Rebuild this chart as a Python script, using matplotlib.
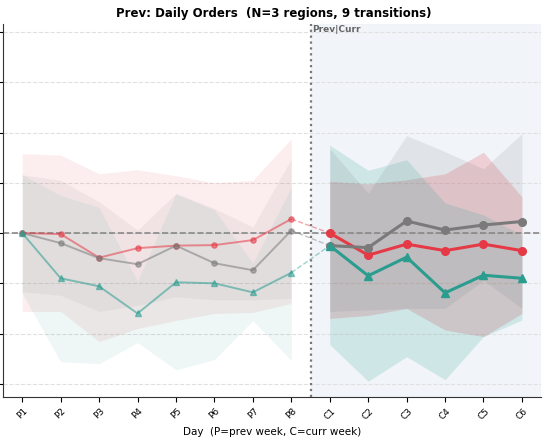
import matplotlib
matplotlib.use("Agg")
import matplotlib.pyplot as plt
import numpy as np

days = ["P1", "P2", "P3", "P4", "P5", "P6", "P7", "P8",
        "C1", "C2", "C3", "C4", "C5", "C6"]
n_prev = 8

# mean series (% change)
red_prev = [0.0, -0.1, -2.45, -1.5, -1.25, -1.2, -0.7, 1.4]
gray_prev = [0.0, -1.0, -2.5, -3.1, -1.25, -3.0, -3.7, 0.25]
teal_prev = [0.0, -4.5, -5.3, -8.0, -4.9, -5.0, -5.9, -3.95]
red_curr = [0.0, -2.2, -1.1, -1.75, -1.1, -1.75]
gray_curr = [-1.25, -1.45, 1.2, 0.3, 0.8, 1.15]
teal_curr = [-1.25, -4.25, -2.4, -5.95, -4.2, -4.5]

# band bounds
red_prev_hi = [7.9, 7.75, 5.9, 6.3, 5.7, 5.0, 5.25, 9.4]
red_prev_lo = [-7.8, -7.8, -10.8, -9.5, -8.7, -8.0, -7.9, -7.0]
gray_prev_hi = [5.8, 5.25, 3.1, 0.3, 3.95, 2.45, 0.6, 7.4]
gray_prev_lo = [-5.85, -6.2, -7.8, -7.2, -6.35, -6.65, -6.65, -6.5]
teal_prev_hi = [5.8, 3.75, 2.55, -4.8, 3.9, 2.3, -3.0, 4.6]
teal_prev_lo = [-6.0, -12.8, -13.0, -10.9, -13.6, -12.6, -8.7, -12.7]

red_curr_hi = [5.15, 4.9, 5.3, 5.9, 8.05, 3.6]
red_curr_lo = [-8.5, -8.2, -7.5, -9.65, -10.3, -8.0]
gray_curr_hi = [8.4, 3.95, 9.7, 8.1, 6.4, 9.9]
gray_curr_lo = [-7.8, -7.65, -7.5, -7.5, -4.7, -7.5]
teal_curr_hi = [8.75, 6.25, 7.3, 3.0, 1.8, -0.2]
teal_curr_lo = [-11.1, -14.75, -12.3, -14.6, -10.3, -8.65]

yticks = [-15, -10, -5, 0, 5, 10, 15, 20]

RED = "#e63946"
GRAY = "#7a7a7a"
TEAL = "#2a9d8f"

fig = plt.figure(figsize=(5.48, 4.38), dpi=100)
ax = fig.add_axes([0.0055, 0.094, 0.982, 0.851])

x = np.arange(len(days))
xp = x[:n_prev]
xc = x[n_prev:]

ax.axvspan(n_prev - 0.5, len(days) - 0.5, color="#eef3f8", alpha=0.8, zorder=0)

series = [
    (RED, "o", red_prev, red_prev_lo, red_prev_hi, red_curr, red_curr_lo, red_curr_hi, 0.09, 0.2),
    (GRAY, "o", gray_prev, gray_prev_lo, gray_prev_hi, gray_curr, gray_curr_lo, gray_curr_hi, 0.08, 0.14),
    (TEAL, "^", teal_prev, teal_prev_lo, teal_prev_hi, teal_curr, teal_curr_lo, teal_curr_hi, 0.08, 0.17),
]

for col, mk, mp, lp, hp, mc, lc, hc, ap, ac in series:
    ax.fill_between(xp, lp, hp, color=col, alpha=ap, linewidth=0, zorder=1)
    ax.fill_between(xc, lc, hc, color=col, alpha=ac, linewidth=0, zorder=1)
for col, mk, mp, lp, hp, mc, lc, hc, ap, ac in series:
    ax.plot(xp, mp, color=col, marker=mk, markersize=3.8, linewidth=1.4, alpha=0.55, zorder=3)
    ax.plot([xp[-1], xc[0]], [mp[-1], mc[0]], color=col, linestyle="--",
            linewidth=1.0, alpha=0.45, zorder=2)
    ax.plot(xc, mc, color=col, marker=mk, markersize=5.5, linewidth=2.2, zorder=4)

ax.axhline(0, color="#888888", linestyle="--", linewidth=1.2, zorder=2)
ax.axvline(n_prev - 0.5, color="#777777", linestyle=":", linewidth=1.6, zorder=5)
ax.text(n_prev - 0.45, 20.75, "Prev|Curr", fontsize=6.5, fontweight="bold",
        color="#666666", va="top", ha="left")

ax.set_xlim(-0.5, len(days) - 0.5)
ax.set_ylim(-16.3, 20.8)
ax.set_yticks(yticks)
ax.tick_params(axis="y", labelleft=False, length=3.5)
ax.yaxis.grid(True, linestyle="--", color="#e0e0e0", linewidth=0.8)
ax.set_axisbelow(True)
ax.set_xticks(x)
ax.set_xticklabels(days, rotation=45, fontsize=6.5)
ax.tick_params(axis="x", length=3.5)
for s in ["top", "right"]:
    ax.spines[s].set_visible(False)
ax.spines["left"].set_color("#333333")
ax.spines["bottom"].set_color("#333333")

ax.set_xlabel("Day  (P=prev week, C=curr week)", fontsize=7.5)
fig.text(0.5, 0.985, "Prev: Daily Orders  (N=3 regions, 9 transitions)",
         fontsize=8.5, fontweight="bold", ha="center", va="top")

fig.savefig("out.png", dpi=100)
